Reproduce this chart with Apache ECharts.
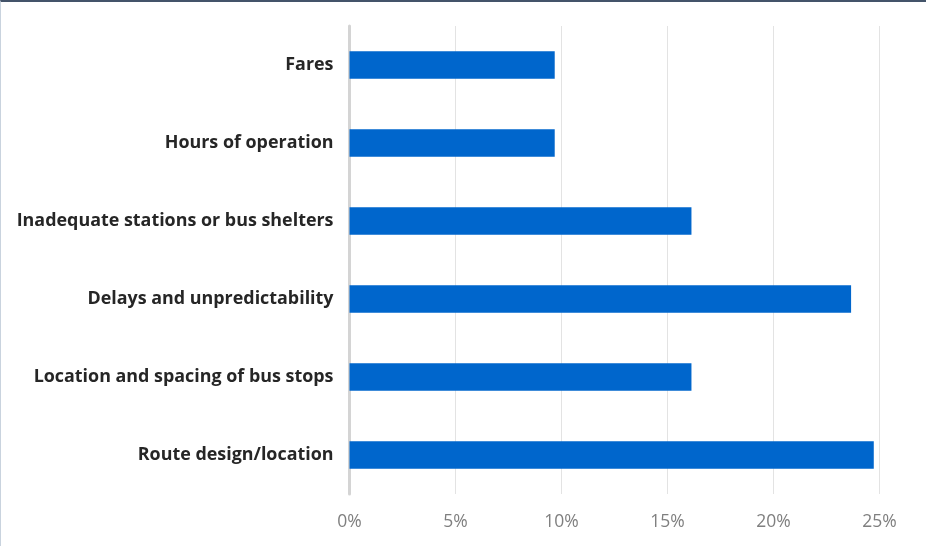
<!DOCTYPE html>
<html>
<head>
<meta charset="utf-8">
<script src="https://cdn.jsdelivr.net/npm/echarts@6/dist/echarts.min.js"></script>
<style>
  html, body { margin: 0; padding: 0; background: #fff; }
  #wrap {
    width: 926px; height: 546px; box-sizing: border-box;
    border-top: 2px solid #44546a; border-left: 1px solid #c9d3de;
  }
  #main { width: 925px; height: 544px; }
</style>
</head>
<body>
<div id="wrap"><div id="main"></div></div>
<script>
// categories top to bottom
var categories = [
  'Fares',
  'Hours of operation',
  'Inadequate stations or bus shelters',
  'Delays and unpredictability',
  'Location and spacing of bus stops',
  'Route design/location'
];
// share of respondents, %
var values = [9.68, 9.68, 16.13, 23.66, 16.13, 24.73];
var tickMax = 25;
var tickStep = 5;

var chart = echarts.init(document.getElementById('main'));
var option = {
  animation: false,
  grid: {
    left: 348.5,
    right: 46.5,
    top: 24,
    bottom: 52
  },
  xAxis: {
    type: 'value',
    min: 0,
    max: tickMax,
    interval: tickStep,
    axisLine: { show: false },
    axisTick: { show: false },
    splitLine: { lineStyle: { color: '#e3e3e3', width: 1 } },
    axisLabel: {
      formatter: '{value}%',
      color: '#7f7f7f',
      fontFamily: 'Open Sans',
      fontSize: 17.5,
      margin: 19
    }
  },
  yAxis: {
    type: 'category',
    inverse: true,
    data: categories,
    axisLine: { show: true, lineStyle: { color: '#d4d4d4', width: 3 } },
    axisTick: { show: false },
    axisLabel: {
      color: '#262626',
      fontFamily: 'Open Sans',
      fontWeight: 'bold',
      fontSize: 17.9,
      margin: 16
    }
  },
  series: [{
    type: 'bar',
    data: values,
    barWidth: '35%',
    itemStyle: { color: '#0066cc' }
  }]
};
chart.setOption(option);
</script>
</body>
</html>
